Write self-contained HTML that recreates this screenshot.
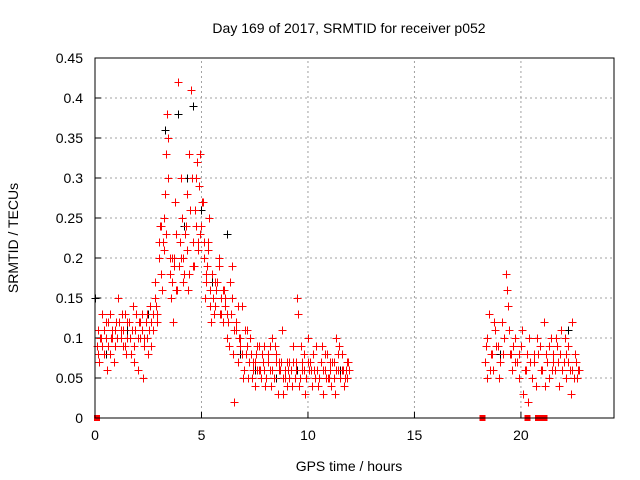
<!DOCTYPE html>
<html><head><meta charset="utf-8"><style>
body{margin:0;background:#fff}
svg{display:block;font-family:"Liberation Sans",sans-serif}
</style></head><body>
<svg id="chart" width="640" height="480" xmlns="http://www.w3.org/2000/svg">
<rect width="640" height="480" fill="#fff"/>
<g id="grid"></g>
<g id="ticks"></g>
<g id="marks" shape-rendering="crispEdges"></g>
<rect x="95" y="58" width="519" height="360" fill="none" stroke="#000" stroke-width="1"/>
<text x="349" y="33" font-size="14" text-anchor="middle">Day 169 of 2017, SRMTID for receiver p052</text>
<text x="349" y="471" font-size="14" text-anchor="middle">GPS time / hours</text>
<text x="18" y="238" font-size="14" text-anchor="middle" transform="rotate(-90 18 238)">SRMTID / TECUs</text>
</svg>
<script>
const xTicks=[0,5,10,15,20];
const yTicks=[0,0.05,0.1,0.15,0.2,0.25,0.3,0.35,0.4,0.45];
const yTickLabels=["0","0.05","0.1","0.15","0.2","0.25","0.3","0.35","0.4","0.45"];
const redT=[0.1,0.2,0.3,0.4,0.5,0.6,0.7,0.8,0.9,1.0,1.1,1.2,1.3,1.4,1.5,1.6,1.7,1.8,1.9,2.0,2.1,2.2,2.3,2.4,2.5,2.6,2.7,2.8,2.9,3.0,3.05,3.1,3.2,3.3,3.35,3.4,3.45,3.5,3.55,3.6,3.7,3.8,3.9,3.95,4.0,4.1,4.2,4.3,4.4,4.5,4.55,4.6,4.7,4.8,4.9,5.0,5.1,5.2,5.3,5.4,5.5,5.6,5.7,5.8,5.9,6.0,6.1,6.2,6.3,6.4,6.5,6.6,6.7,6.8,6.9,7.0,7.1,7.2,7.3,7.4,7.5,7.6,7.7,7.8,7.9,8.0,8.1,8.2,8.3,8.4,8.5,8.6,8.7,8.8,8.9,9.0,9.1,9.2,9.3,9.4,9.5,9.55,9.6,9.7,9.8,9.9,10.0,10.1,10.2,10.3,10.4,10.5,10.6,10.7,10.8,10.9,11.0,11.1,11.2,11.3,11.4,11.5,11.6,11.7,11.8,11.9,
0.15,0.35,0.55,0.75,0.95,1.25,1.45,1.65,1.85,2.05,2.25,2.45,2.65,2.85,3.15,3.25,3.42,3.65,3.75,3.85,4.05,4.15,4.25,4.35,4.45,4.65,4.75,4.85,4.95,5.05,5.15,5.25,5.35,5.45,5.65,5.85,6.05,6.25,6.45,6.55,6.75,6.95,7.15,7.35,7.55,7.75,7.95,8.25,8.45,8.65,8.85,9.05,9.25,9.45,9.65,9.85,10.05,10.25,10.45,10.65,10.85,11.05,11.25,11.45,11.65,11.85,
18.3,18.4,18.5,18.6,18.7,18.8,18.9,19.0,19.1,19.2,19.3,19.35,19.4,19.5,19.6,19.7,19.8,19.9,20.0,20.1,20.2,20.3,20.4,20.5,20.6,20.7,20.8,20.9,21.0,21.1,21.2,21.3,21.4,21.5,21.6,21.7,21.8,21.9,22.0,22.1,22.2,22.3,22.4,22.5,22.6,22.7,
18.35,18.55,18.75,18.95,19.15,19.45,19.65,20.05,20.35,20.75,21.15,21.45,21.65,21.85,22.05,22.35,22.55,
0.12,0.22,0.32,0.42,0.52,0.62,0.72,0.82,0.92,1.02,1.12,1.22,1.32,1.42,1.52,1.62,1.72,1.82,1.92,2.02,2.12,2.22,2.32,2.42,2.52,2.62,2.72,2.82,2.92,3.02,3.12,3.22,3.32,3.52,3.62,3.72,3.82,4.02,4.12,4.22,4.32,4.42,4.62,4.72,4.82,4.92,5.02,5.12,5.22,5.32,5.42,5.52,5.62,5.72,5.82,5.92,6.02,6.12,6.22,6.32,6.42,6.52,6.62,6.72,6.82,6.92,7.02,7.12,7.22,7.32,7.42,7.52,7.62,7.72,7.82,7.92,8.02,8.12,8.22,8.32,8.42,8.52,8.62,8.72,8.82,8.92,9.02,9.12,9.22,9.32,9.42,9.62,9.72,9.82,9.92,10.02,10.12,10.22,10.32,10.42,10.52,10.62,10.72,10.82,10.92,11.02,11.12,11.22,11.32,11.42,11.52,11.62,11.72,11.82,11.92,
18.42,18.62,18.82,19.02,19.22,19.52,19.72,19.92,20.22,20.42,20.62,20.92,21.22,21.32,21.52,21.72,21.92,22.12,22.22,22.42,22.62,22.72];
const redV=[.09,.07,.1,.08,.12,.09,.13,.1,.07,.12,.15,.11,.09,.13,.1,.12,.08,.14,.11,.06,.1,.13,.09,.12,.08,.14,.11,.17,.13,.2,.24,.18,.22,.28,.33,.38,.3,.2,.15,.17,.2,.23,.42,.19,.22,.25,.18,.28,.33,.41,.3,.22,.26,.32,.29,.24,.2,.17,.22,.14,.18,.13,.16,.2,.15,.12,.14,.1,.09,.13,.08,.11,.07,.09,.14,.06,.08,.05,.1,.07,.04,.06,.09,.05,.07,.04,.08,.06,.1,.05,.07,.03,.06,.11,.05,.04,.07,.06,.09,.05,.15,.13,.04,.06,.08,.05,.1,.07,.04,.06,.09,.05,.07,.03,.06,.08,.05,.04,.07,.1,.06,.05,.08,.04,.06,.07,
.11,.13,.06,.1,.11,.13,.08,.1,.07,.12,.05,.1,.09,.14,.16,.25,.35,.12,.27,.16,.3,.2,.24,.16,.26,.19,.3,.22,.33,.27,.15,.19,.25,.12,.17,.13,.16,.12,.19,.02,.1,.05,.11,.05,.08,.06,.09,.04,.09,.07,.03,.06,.04,.07,.09,.03,.06,.08,.04,.09,.05,.07,.03,.09,.06,.05,
.07,.1,.13,.08,.06,.11,.09,.07,.12,.1,.18,.16,.14,.08,.06,.1,.07,.05,.09,.03,.06,.08,.1,.05,.07,.04,.08,.09,.06,.12,.08,.05,.1,.07,.06,.09,.04,.11,.07,.05,.09,.06,.12,.05,.07,.06,
.09,.06,.12,.05,.08,.11,.09,.11,.02,.1,.04,.06,.1,.08,.1,.03,.08,
.08,.1,.09,.11,.1,.12,.08,.11,.09,.1,.12,.1,.11,.09,.12,.1,.11,.09,.13,.1,.12,.11,.1,.13,.11,.12,.13,.15,.12,.22,.24,.21,.23,.18,.2,.19,.16,.2,.17,.23,.21,.18,.19,.24,.21,.23,.27,.22,.18,.21,.16,.15,.14,.17,.19,.13,.16,.15,.13,.17,.15,.11,.12,.14,.1,.08,.11,.09,.07,.08,.06,.07,.09,.06,.08,.06,.05,.07,.09,.06,.05,.08,.06,.07,.05,.06,.07,.05,.06,.07,.06,.05,.07,.06,.05,.07,.06,.08,.05,.06,.05,.07,.06,.08,.05,.06,.07,.05,.06,.08,.05,.06,.05,.07,.06,.05,
.08,.09,.07,.1,.08,.07,.08,.06,.07,.08,.06,.07,.09,.08,.07,.06,.08,.07,.06,.05,.06,.07];
const blackT=[0.0,0.5,1.5,2.5,3.3,3.9,4.3,4.6,4.2,5.0,5.5,6.2,6.8,7.5,8.5,9.5,10.5,11.5,19.0,21.5,22.2];
const blackV=[.15,.08,.11,.13,.36,.38,.3,.39,.24,.26,.17,.23,.08,.06,.05,.06,.05,.06,.08,.07,.11];
const zeroT=[0.1,18.2,20.3,20.8,21.0,21.1];
const X0=95,X1=614,XMAX=24.37,Y0=418,Y1=58,YMAX=0.45;
const xs=t=>X0+(X1-X0)*t/XMAX, ys=v=>Y0-(Y0-Y1)*v/YMAX;
const NS="http://www.w3.org/2000/svg";
function mk(tag,attrs,parent){const e=document.createElementNS(NS,tag);for(const k in attrs)e.setAttribute(k,attrs[k]);parent.appendChild(e);return e;}
const grid=document.getElementById('grid'),ticks=document.getElementById('ticks'),marks=document.getElementById('marks');
xTicks.forEach(t=>{const x=xs(t);
 if(t>0){const g=mk('line',{x1:x,x2:x,y1:Y0,y2:Y1,stroke:'#a0a0a0','stroke-dasharray':'2,3'},grid);
 
 }
 mk('line',{x1:x,x2:x,y1:Y0,y2:Y0-6,stroke:'#000'},ticks);
 const l=mk('text',{x:x,y:Y0+22,'font-size':14,'text-anchor':'middle'},ticks);l.textContent=t;
 
 });
yTicks.forEach((v,i)=>{const y=ys(v);
 if(v>0){const g=mk('line',{x1:X0,x2:X1,y1:y,y2:y,stroke:'#a0a0a0','stroke-dasharray':'2,3'},grid);
 
 }
 mk('line',{x1:X0,x2:X0+6,y1:y,y2:y,stroke:'#000'},ticks);
 const l=mk('text',{x:X0-12,y:y+5,'font-size':14,'text-anchor':'end'},ticks);l.textContent=yTickLabels[i];
 
 });
function plus(t,v,col,name){const x=Math.round(xs(t))+0.5,y=Math.round(ys(v))+0.5;
 const p=mk('path',{d:`M${x-4},${y}h8M${x},${y-4}v8`,stroke:col,'stroke-width':1},marks);
 
 }
blackT.forEach((t,i)=>plus(t,blackV[i],'#000','black-point'));
redT.forEach((t,i)=>plus(t,redV[i],'#f00','red-point'));
zeroT.forEach(t=>{const r=mk('rect',{x:xs(t)-3,y:Y0-3,width:6,height:6,fill:'#f00'},marks);
 
 });
</script>
</body></html>
